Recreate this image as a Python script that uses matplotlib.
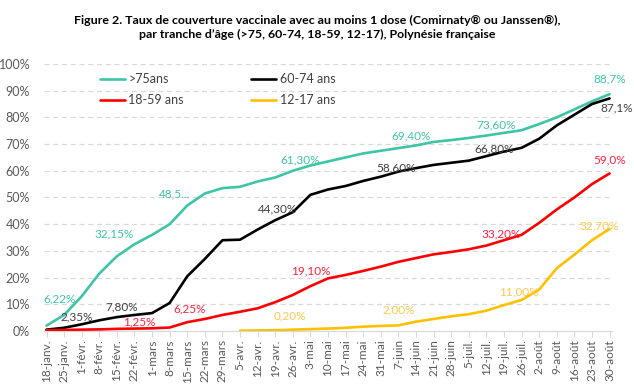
import numpy as np
import pandas as pd
import matplotlib
matplotlib.use("Agg")
import matplotlib.pyplot as plt
from matplotlib.patches import Rectangle

OUTPUT_FILE = "out.png"

# weekly points, 18 Jan -> 30 Aug 2021
WEEKS = pd.date_range("2021-01-18", "2021-08-30", freq="7D")
TICK_LABELS = [
    "18-janv.", "25-janv.", "1-févr.", "8-févr.", "15-févr.", "22-févr.",
    "1-mars", "8-mars", "15-mars", "22-mars", "29-mars", "5-avr.",
    "12-avr.", "19-avr.", "26-avr.", "3-mai", "10-mai", "17-mai",
    "24-mai", "31-mai", "7-juin", "14-juin", "21-juin", "28-juin",
    "5-juil.", "12-juil.", "19-juil.", "26-juil.", "2-août", "9-août",
    "16-août", "23-août", "30-août"]

OVER75 = [2.0, 6.0, 13.0, 21.5, 28.0, 32.5, 36.0, 40.0, 47.0, 51.5, 53.5,
          54.0, 56.0, 57.5, 60.0, 62.0, 63.5, 65.0, 66.5, 67.5, 68.5,
          69.5, 70.8, 71.5, 72.3, 73.2, 74.2, 75.2, 77.5, 80.0, 83.0,
          86.0, 88.7]
AGE_60_74 = [0.5, 1.2, 2.5, 4.0, 5.2, 6.0, 6.7, 10.5, 20.5, 27.0, 34.0,
             34.2, 38.0, 41.5, 44.5, 51.0, 53.0, 54.3, 56.2, 57.8, 59.7,
             61.0, 62.2, 63.0, 63.8, 65.5, 67.2, 68.6, 72.0, 77.0, 81.0,
             85.0, 87.1]
AGE_18_59 = [0.3, 0.4, 0.5, 0.6, 0.8, 0.9, 1.0, 1.3, 3.3, 4.5, 6.0, 7.2,
             8.5, 10.8, 13.5, 16.8, 19.7, 21.0, 22.5, 24.1, 25.9, 27.3,
             28.7, 29.6, 30.6, 32.0, 34.0, 36.0, 40.5, 45.5, 50.0, 55.0,
             59.0]
AGE_12_17 = [np.nan] * 11 + [0.1, 0.2, 0.3, 0.5, 0.7, 0.9, 1.2, 1.6, 1.9,
                             2.1, 3.5, 4.5, 5.5, 6.3, 7.6, 9.7, 11.6, 15.5,
                             23.5, 28.6, 34.0, 38.2]

SERIES = [(">75ans", OVER75, "#3EC4A6"),
          ("60-74 ans", AGE_60_74, "#000000"),
          ("18-59 ans", AGE_18_59, "#FF0000"),
          ("12-17 ans", AGE_12_17, "#FFC000")]

# data labels: (text, date, y%, colour)
LABELS = [
    ("6,22%", "2021-01-23", 11.9, "#3EC4A6"),
    ("32,15%", "2021-02-14", 36.2, "#3EC4A6"),
    ("48,5...", "2021-03-10", 51.2, "#3EC4A6"),
    ("61,30%", "2021-04-29", 64.1, "#3EC4A6"),
    ("69,40%", "2021-06-12", 73.0, "#3EC4A6"),
    ("73,60%", "2021-07-16", 77.0, "#3EC4A6"),
    ("88,7%", "2021-08-30", 94.4, "#3EC4A6"),
    ("2,35%", "2021-01-30", 5.2, "#404040"),
    ("7,80%", "2021-02-17", 9.0, "#404040"),
    ("44,30%", "2021-04-20", 45.7, "#404040"),
    ("58,60%", "2021-06-06", 61.0, "#404040"),
    ("66,80%", "2021-07-15", 68.2, "#404040"),
    ("87,1%", "2021-09-02", 83.5, "#404040"),
    ("1,25%", "2021-02-24", 3.5, "#FF2040"),
    ("6,25%", "2021-03-16", 8.3, "#FF2040"),
    ("19,10%", "2021-05-03", 22.5, "#FF2040"),
    ("33,20%", "2021-07-18", 36.3, "#FF2040"),
    ("59,0%", "2021-08-30", 64.1, "#FF2040"),
    ("0,20%", "2021-04-25", 5.6, "#FFC84A"),
    ("2,00%", "2021-06-07", 7.9, "#FFC84A"),
    ("11,00%", "2021-07-25", 14.6, "#FFC84A"),
    ("32,70%", "2021-08-26", 39.3, "#FFC84A"),
]

plt.rcParams["font.family"] = ["Lato", "DejaVu Sans"]
fig = plt.figure(figsize=(6.34, 3.85), dpi=100)
ax = fig.add_axes([0.0694, 0.1403, 0.896, 0.6935])

lines = {}
for name, vals, col in SERIES:
    lines[name], = ax.plot(WEEKS, vals, color=col, lw=1.9, label=name,
                           zorder=3, solid_capstyle="round")

for txt, d, y, col in LABELS:
    ax.text(pd.Timestamp(d), y, txt, color=col, fontsize=8.5,
            ha="center", va="center", zorder=4)

ax.set_ylim(0, 100)
ax.set_yticks(range(0, 101, 10))
ax.set_yticklabels([f"{v}%" for v in range(0, 101, 10)])
ax.set_xlim(WEEKS[0] - pd.Timedelta(days=1), WEEKS[-1] + pd.Timedelta(days=1))
ax.set_xticks(WEEKS)
ax.set_xticklabels(TICK_LABELS, rotation=90)
ax.tick_params(axis="y", length=0, labelsize=9, colors="#595959", pad=10)
ax.tick_params(axis="x", length=4, labelsize=8.5, colors="#595959",
               color="#D9D9D9", pad=2)
ax.grid(axis="y", color="#D9D9D9", ls=(0, (4, 3)), lw=0.9, zorder=0)
for s in ["top", "right", "left"]:
    ax.spines[s].set_visible(False)
ax.spines["bottom"].set_color("#D9D9D9")

# legend area hides the gridline behind it, like the Excel original
ax.add_patch(Rectangle((0.025, 0.813), 0.523, 0.18, transform=ax.transAxes,
                       facecolor="white", edgecolor="none", zorder=1))
order = [">75ans", "18-59 ans", "60-74 ans", "12-17 ans"]
ax.legend([lines[n] for n in order], order,
          loc="upper left", bbox_to_anchor=(0.078, 1.008), ncol=2,
          frameon=False, fontsize=9, handlelength=2.0, handletextpad=0.3,
          columnspacing=5.4, labelspacing=0.75, labelcolor="#404040")

fig.text(0.5, 0.962,
         "Figure 2. Taux de couverture vaccinale avec au moins 1 dose "
         "(Comirnaty® ou Janssen®),\npar tranche d\u2019âge "
         "(>75, 60-74, 18-59, 12-17), Polynésie française",
         ha="center", va="top", fontsize=8.9, weight="bold",
         linespacing=1.35)

plt.savefig(OUTPUT_FILE, dpi=100)
